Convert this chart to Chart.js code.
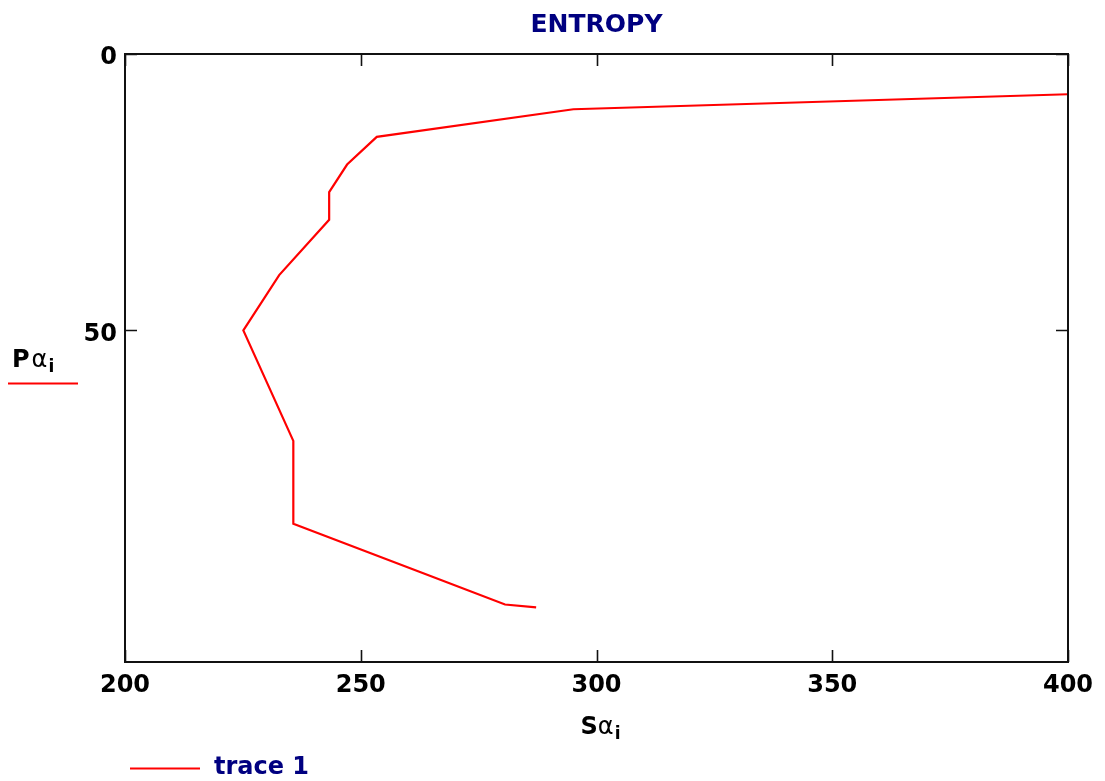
<!DOCTYPE html>
<html>
<head>
<meta charset="utf-8">
<script src="https://cdn.jsdelivr.net/npm/chart.js@4/dist/chart.umd.min.js"></script>
<style>
  html, body { margin: 0; padding: 0; background: #ffffff; }
  #wrap { width: 1105px; height: 781px; }
</style>
</head>
<body>
<div id="wrap"><canvas id="c" width="1105" height="781"></canvas></div>
<script>
// ---- data ----
const entropyS  = [411, 295.1, 253.4, 247.1, 243.3, 243.3, 232.7, 225.1, 235.7, 235.7, 263.4, 280.6, 287.2];
const pressureP = [7, 10, 15, 20, 25, 30, 40, 50, 70, 85, 94, 99.6, 100.1];
const xTicks = [200, 250, 300, 350, 400];
const yTicks = [0, 50];
const seriesName = 'trace 1';
const chartTitle = 'ENTROPY';

const FONT = "'DejaVu Sans', Verdana, sans-serif";
const NAVY = '#000080';
const RED = '#ff0000';

const points = entropyS.map((s, i) => ({ x: s, y: pressureP[i] }));

function drawRich(ctx, parts, x, baseline, align) {
  let total = 0;
  parts.forEach(p => { ctx.font = p.font; p.w = ctx.measureText(p.text).width; total += p.w + (p.gap || 0); });
  let cx = align === 'center' ? x - total / 2 : x;
  ctx.textAlign = 'left';
  ctx.textBaseline = 'alphabetic';
  parts.forEach(p => {
    ctx.font = p.font;
    ctx.fillStyle = p.color || '#000';
    ctx.fillText(p.text, cx, baseline + (p.dy || 0));
    cx += p.w + (p.gap || 0);
  });
}

const framePlugin = {
  id: 'frame',
  afterDraw(chart) {
    const ctx = chart.ctx;
    const a = chart.chartArea;
    const xs = chart.scales.x, ys = chart.scales.y;
    ctx.save();
    // box
    ctx.strokeStyle = '#111';
    ctx.lineWidth = 2;
    ctx.strokeRect(a.left, a.top, a.right - a.left, a.bottom - a.top);
    // inner ticks
    const tl = 12;
    ctx.lineWidth = 1.6;
    ctx.beginPath();
    xTicks.forEach(v => {
      const px = Math.round(xs.getPixelForValue(v)) + 0.5;
      ctx.moveTo(px, a.top); ctx.lineTo(px, a.top + tl);
      ctx.moveTo(px, a.bottom); ctx.lineTo(px, a.bottom - tl);
    });
    yTicks.forEach(v => {
      const py = Math.round(ys.getPixelForValue(v)) + 0.5;
      ctx.moveTo(a.left, py); ctx.lineTo(a.left + tl, py);
      ctx.moveTo(a.right, py); ctx.lineTo(a.right - tl, py);
    });
    ctx.stroke();

    // axis labels
    const cxMid = (a.left + a.right) / 2;
    drawRich(ctx, [
      { text: 'S', font: 'bold 24px ' + FONT },
      { text: 'α', font: '24px ' + FONT, gap: 1 },
      { text: 'i', font: 'bold 17px ' + FONT, dy: 5 }
    ], cxMid + 4, 734, 'center');

    drawRich(ctx, [
      { text: 'P', font: 'bold 24px ' + FONT, gap: 2 },
      { text: 'α', font: '24px ' + FONT, gap: 1 },
      { text: 'i', font: 'bold 17px ' + FONT, dy: 5 }
    ], 12, 367, 'left');

    // trace line under y label
    ctx.strokeStyle = RED;
    ctx.lineWidth = 2;
    ctx.beginPath();
    ctx.moveTo(8, 383.5); ctx.lineTo(78, 383.5);
    ctx.stroke();

    // legend
    const ds = chart.data.datasets[0];
    ctx.strokeStyle = ds.borderColor;
    ctx.beginPath();
    ctx.moveTo(130, 768.5); ctx.lineTo(200, 768.5);
    ctx.stroke();
    ctx.font = 'bold 24px ' + FONT;
    ctx.fillStyle = NAVY;
    ctx.textAlign = 'left';
    ctx.textBaseline = 'middle';
    ctx.fillText(ds.label, 214, 768);
    ctx.restore();
  }
};

new Chart(document.getElementById('c'), {
  type: 'scatter',
  data: {
    datasets: [{
      label: seriesName,
      data: points,
      showLine: true,
      borderColor: RED,
      backgroundColor: RED,
      borderWidth: 2.2,
      pointRadius: 0,
      pointHoverRadius: 0,
      tension: 0
    }]
  },
  options: {
    responsive: false,
    animation: false,
    devicePixelRatio: 1,
    layout: { padding: { left: 0, right: 37, top: 0, bottom: 0 } },
    plugins: {
      legend: { display: false },
      tooltip: { enabled: false },
      title: {
        display: true,
        text: chartTitle,
        color: NAVY,
        fullSize: false,
        font: { family: FONT, size: 25, weight: 'bold', lineHeight: 1.2 },
        padding: { top: 10, bottom: 14 }
      }
    },
    scales: {
      x: {
        type: 'linear',
        min: 200, max: 400,
        grid: { display: false, drawTicks: false },
        border: { display: false },
        afterBuildTicks(scale) { scale.ticks = xTicks.map(v => ({ value: v })); },
        afterFit(scale) { scale.height = 119; },
        ticks: {
          color: '#000',
          padding: 9,
          maxRotation: 0,
          font: { family: FONT, size: 24, weight: 'bold' }
        }
      },
      y: {
        type: 'linear',
        reverse: true,
        min: 0, max: 110,
        grid: { display: false, drawTicks: false },
        border: { display: false },
        afterBuildTicks(scale) { scale.ticks = yTicks.map(v => ({ value: v })); },
        afterFit(scale) { scale.width = 125; },
        ticks: {
          color: '#000',
          padding: 8,
          labelOffset: 4,
          font: { family: FONT, size: 24, weight: 'bold' }
        }
      }
    }
  },
  plugins: [framePlugin]
});
</script>
</body>
</html>
